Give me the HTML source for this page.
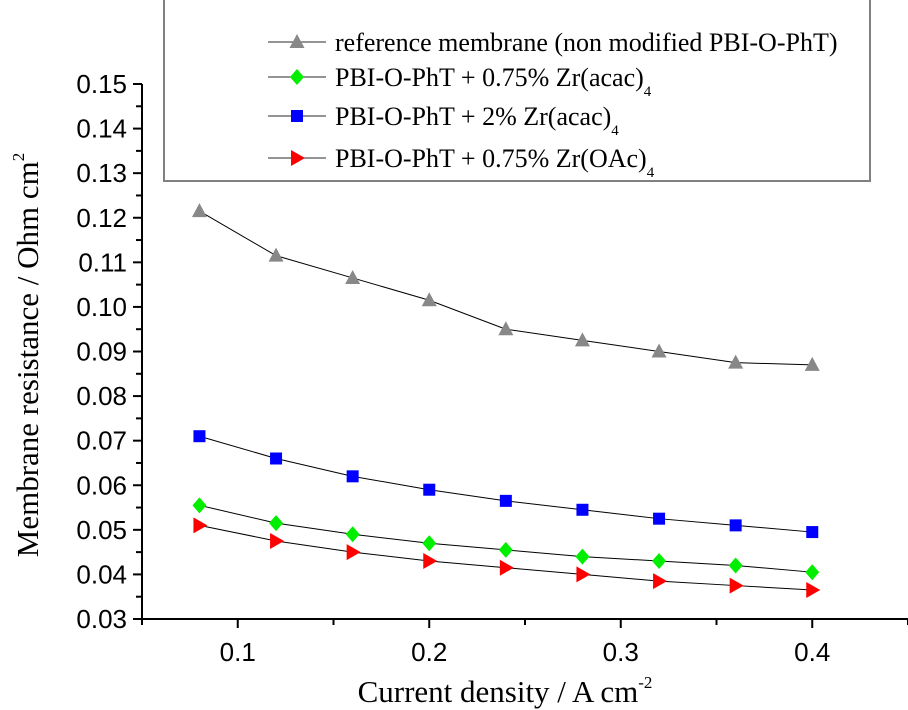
<!DOCTYPE html>
<html><head><meta charset="utf-8"><style>
html,body{margin:0;padding:0;background:#fff;}
svg{display:block;}
.tk{font-family:"Liberation Sans",sans-serif;font-size:26px;fill:#000;}
.ti{font-family:"Liberation Serif",serif;font-size:31px;fill:#000;}
.lg{font-family:"Liberation Serif",serif;font-size:26px;fill:#000;}
</style></head><body>
<svg id="chart" width="908" height="710" xmlns="http://www.w3.org/2000/svg">
<rect x="164" y="-2" width="706" height="183" fill="#fff" stroke="#808080" stroke-width="2"/>
<g id="legend"></g>
<g id="axes"></g>
<g id="series"></g>
<text class="ti" x="505" y="702" text-anchor="middle">Current density / A cm<tspan dy="-14" font-size="17">-2</tspan></text>
<text class="ti" transform="translate(38,355) rotate(-90)" text-anchor="middle">Membrane resistance / Ohm cm<tspan dy="-14" font-size="17">2</tspan></text>
</svg>
<script>
const xValues=[0.08,0.12,0.16,0.20,0.24,0.28,0.32,0.36,0.40];
const refValues=[0.1215,0.1115,0.1065,0.1015,0.095,0.0925,0.090,0.0875,0.087];
const zr2Values=[0.071,0.066,0.062,0.059,0.0565,0.0545,0.0525,0.051,0.0495];
const zr075Values=[0.0555,0.0515,0.049,0.047,0.0455,0.044,0.043,0.042,0.0405];
const oac075Values=[0.051,0.0475,0.045,0.043,0.0415,0.040,0.0385,0.0375,0.0365];
const xTickLabels=["0.1","0.2","0.3","0.4"];
const yTickLabels=["0.03","0.04","0.05","0.06","0.07","0.08","0.09","0.10","0.11","0.12","0.13","0.14","0.15"];
const legendLabels=["reference membrane (non modified PBI-O-PhT)","PBI-O-PhT + 0.75% Zr(acac)","PBI-O-PhT + 2% Zr(acac)","PBI-O-PhT + 0.75% Zr(OAc)"];

const NS="http://www.w3.org/2000/svg";
const X0=142,X1=908,Y0=619,Y1=84;
const xMin=0.05,xMax=0.45,yMin=0.03,yMax=0.15;
const sx=v=>X0+(v-xMin)/(xMax-xMin)*(X1-X0);
const sy=v=>Y0-(v-yMin)/(yMax-yMin)*(Y0-Y1);
function mk(tag,attrs,parent){const e=document.createElementNS(NS,tag);for(const k in attrs)e.setAttribute(k,attrs[k]);parent.appendChild(e);return e;}
const axes=document.getElementById('axes');
let e;
e=mk('line',{x1:X0,y1:Y0,x2:X1,y2:Y0,stroke:'#000','stroke-width':2},axes);


e=mk('line',{x1:X0,y1:Y0+1,x2:X0,y2:Y1,stroke:'#000','stroke-width':2},axes);


for(let i=0;i<=8;i++){const v=0.05+i*0.05;const x=sx(v);const major=(i%2==1);
 e=mk('line',{x1:x,y1:Y0,x2:x,y2:Y0+(major?9:6),stroke:'#000','stroke-width':2},axes);
 
 
}
xTickLabels.forEach(t=>{const v=parseFloat(t);
 e=mk('text',{x:sx(v),y:Y0+42,'text-anchor':'middle',class:'tk'},axes);e.textContent=t;
 
 
});
for(let i=0;i<=24;i++){const v=yMin+i*0.005;const y=sy(v);const major=(i%2==0);
 e=mk('line',{x1:X0,y1:y,x2:X0-(major?9:6),y2:y,stroke:'#000','stroke-width':2},axes);
 
 
}
yTickLabels.forEach(t=>{const v=parseFloat(t);
 e=mk('text',{x:127,y:sy(v)+9,'text-anchor':'end',class:'tk'},axes);e.textContent=t;
 
 
});
function marker(shape,cx,cy,color,parent){
 if(shape==='tri') return mk('polygon',{points:`${cx},${cy-8} ${cx-7.5},${cy+6} ${cx+7.5},${cy+6}`,fill:color},parent);
 if(shape==='dia') return mk('polygon',{points:`${cx},${cy-8} ${cx+7},${cy} ${cx},${cy+8} ${cx-7},${cy}`,fill:color},parent);
 if(shape==='sq') return mk('rect',{x:cx-6,y:cy-6,width:12,height:12,fill:color},parent);
 return mk('polygon',{points:`${cx-6},${cy-8} ${cx+8},${cy} ${cx-6},${cy+8}`,fill:color},parent);
}
const ser=document.getElementById('series');
const defs=[[refValues,'tri','#888888','series-reference'],[zr2Values,'sq','#0000ff','series-2pct-zr-acac'],[zr075Values,'dia','#00ee00','series-075pct-zr-acac'],[oac075Values,'tri-r','#ff0000','series-075pct-zr-oac']];
defs.forEach(([vals,shape,col,name])=>{
 const g=mk('g',{},ser);
 
 
 const pts=vals.map((v,i)=>sx(xValues[i])+','+sy(v)).join(' ');
 e=mk('polyline',{points:pts,fill:'none',stroke:'#000','stroke-width':1},g);
 
 
 vals.forEach((v,i)=>{e=marker(shape,sx(xValues[i]),sy(v),col,g);
  
  });
});
const lg=document.getElementById('legend');
const lgY=[42,77,116,158];const lgShapes=['tri','dia','sq','tri-r'];const lgCols=['#888888','#00ee00','#0000ff','#ff0000'];
legendLabels.forEach((t,i)=>{
 const g=mk('g',{},lg);
 
 
 mk('line',{x1:268,y1:lgY[i],x2:326,y2:lgY[i],stroke:'#555','stroke-width':1.2},g);
 marker(lgShapes[i],297,lgY[i],lgCols[i],g);
 const tx=mk('text',{x:335,y:lgY[i]+9,class:'lg'},g);tx.textContent=t;
 if(i>0){const s=mk('tspan',{dy:10,'font-size':15},tx);s.textContent='4';}
});
</script>
</body></html>
